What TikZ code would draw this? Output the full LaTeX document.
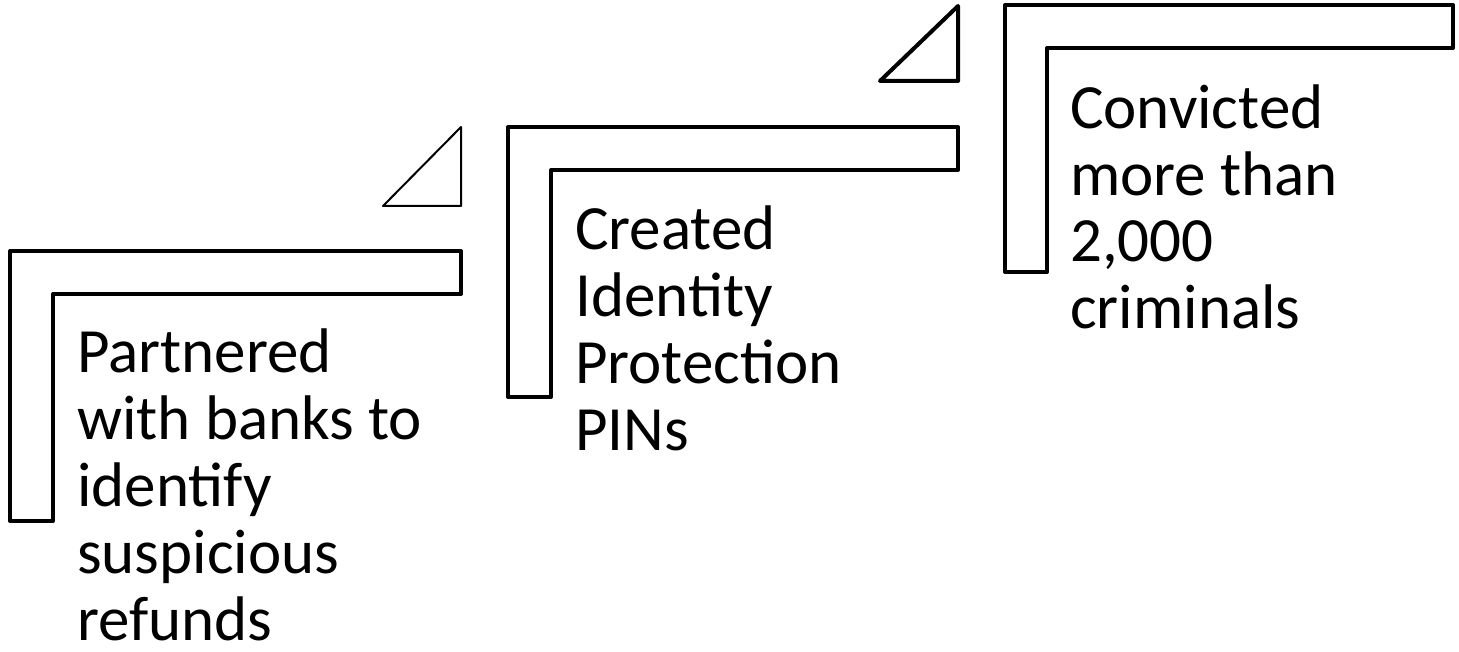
\documentclass[tikz,border=0pt]{standalone}
\usepackage{fontspec}
\setmainfont{Carlito}
\begin{document}
\begin{tikzpicture}[x=1pt,y=-1pt,
  bracket/.style={draw=black,line width=4pt,line join=round,fill=white},
  wedge/.style={draw=black,line join=round,fill=white},
  label/.style={anchor=base west,inner sep=0pt,align=left,font=\fontsize{63}{67}\selectfont}]
\useasboundingbox (0,0) rectangle (1459,652);
% brackets
\draw[bracket] (10,251) -- (461,251) -- (461,294) -- (53,294) -- (53,521) -- (10,521) -- cycle;
\draw[bracket] (508,127) -- (958,127) -- (958,170) -- (551,170) -- (551,397) -- (508,397) -- cycle;
\draw[bracket] (1005,5) -- (1453,5) -- (1453,48) -- (1047,48) -- (1047,272) -- (1005,272) -- cycle;
% wedges
\draw[wedge,line width=2pt] (461,127) -- (461,206) -- (383,206) -- cycle;
\draw[wedge,line width=4pt] (958,6) -- (958,81) -- (880,81) -- cycle;
% texts (base anchor = baseline of the last line)
\node[label] (t1) at (77,640) {Partnered\\with banks to\\identify\\suspicious\\refunds};
\node[label] (t2) at (575,450) {Created\\Identity\\Protection\\PINs};
\node[label] (t3) at (1070,329) {Convicted\\more than\\2,000\\criminals};
\end{tikzpicture}
\end{document}
